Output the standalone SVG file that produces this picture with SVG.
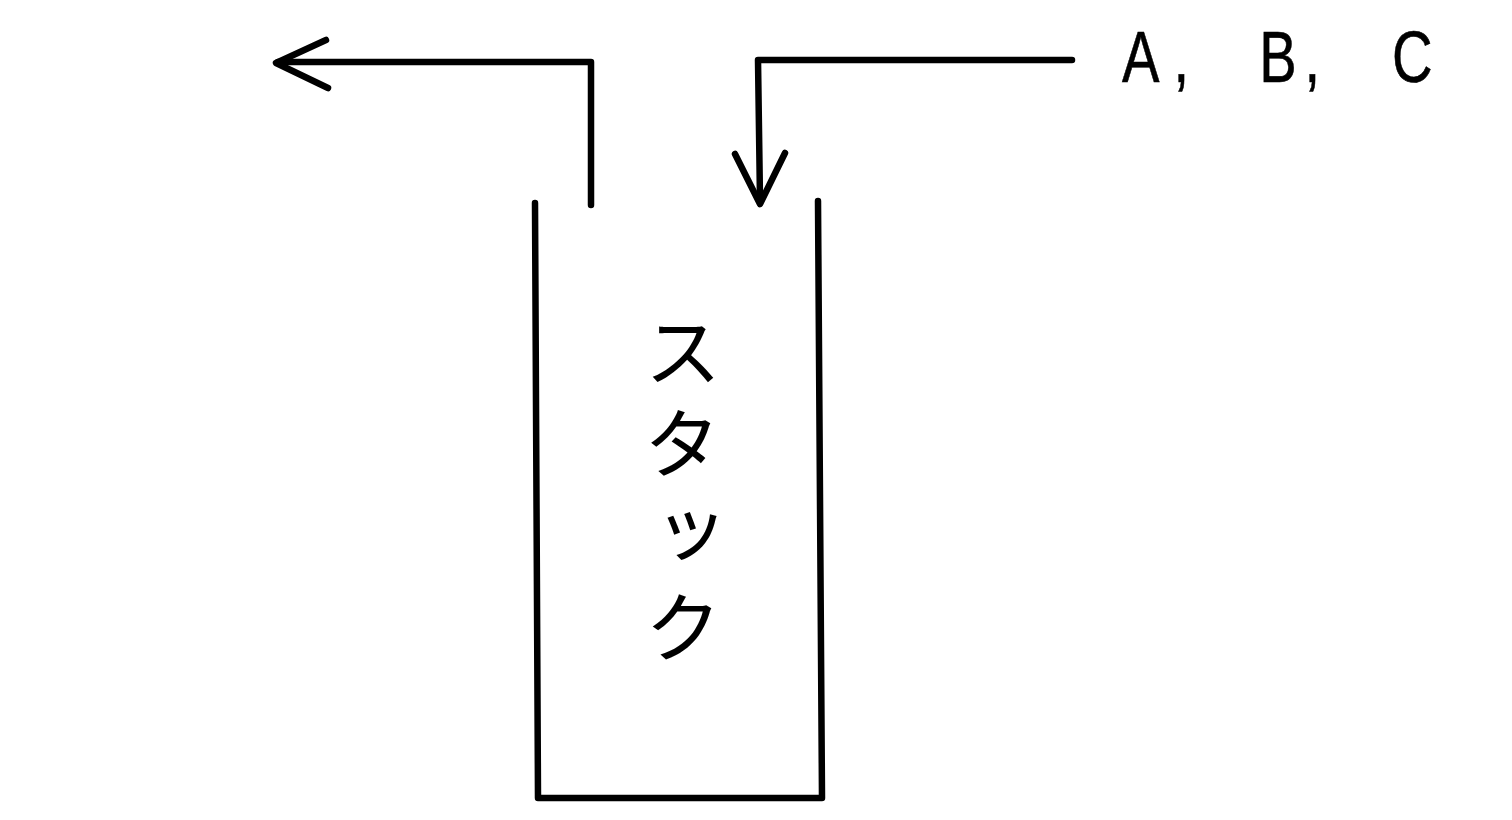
<svg xmlns="http://www.w3.org/2000/svg" width="1512" height="820" viewBox="0 0 1512 820">
<style>
.ln{fill:none;stroke:#000;stroke-width:6.5;stroke-linecap:round;stroke-linejoin:round}
.lbl{font-family:"Liberation Sans","DejaVu Sans",sans-serif;font-size:72px;fill:#000;stroke:#000;stroke-width:0.6}
.jp{font-family:"Noto Sans CJK JP",sans-serif;font-size:78px;fill:#000}
</style>
<rect width="1512" height="820" fill="#fff"/>
<g id="stack">
<path class="ln" d="M535,203 L538,798 L822,798 L818,201"/>
<text class="jp" x="683" y="312" writing-mode="vertical-rl" letter-spacing="14">スタック</text>
</g>
<g id="input-label">
<g transform="translate(1122,82) scale(0.78,1)">
<text class="lbl" x="0 66 100 176 234 270 346">A, B, C</text>
</g>
</g>
<g id="connectors">
<path class="ln" d="M591,205 L591,62 L278,62"/>
<path class="ln" d="M326,40 L276,63 L328,88"/>
<path class="ln" d="M1072,60 L758,60 L760,200"/>
<path class="ln" d="M735,154 L760,204 L785,153"/>
</g>
</svg>
